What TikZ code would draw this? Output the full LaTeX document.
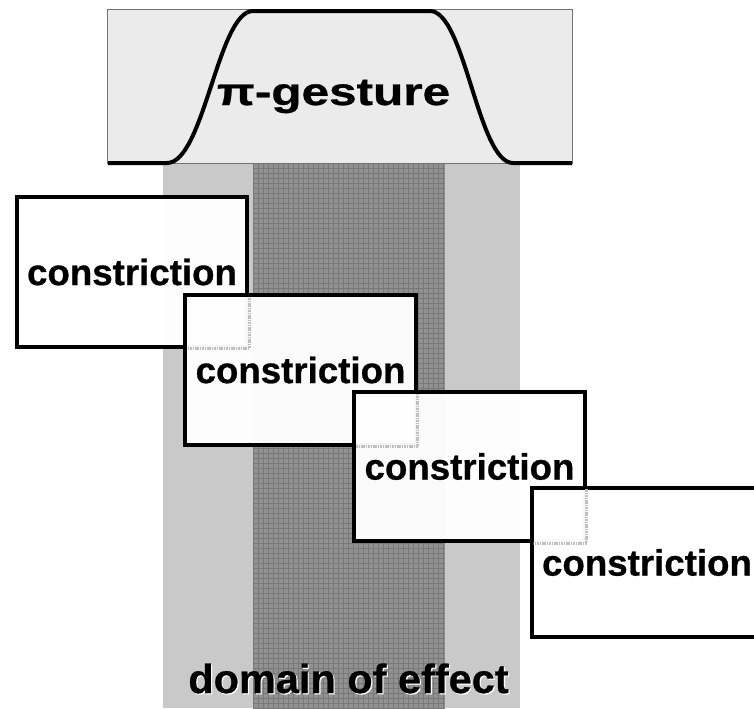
\documentclass[tikz,border=0pt]{standalone}
\usepackage{fontspec}
\setmainfont{Liberation Sans}
\newfontfamily\heavyfont{Liberation Sans Bold}[FakeBold=0.7]
\begin{document}
\begin{tikzpicture}[x=0.75pt,y=-0.75pt,
  labelfont/.style={font=\fontsize{27.5}{30}\heavyfont},
  cbox/.style={draw=black,line width=3pt,fill=white,fill opacity=0.97,
    text opacity=1,minimum width=173pt,minimum height=112pt,inner sep=0pt,
    labelfont},
  ghost/.style={draw=black!25,line width=2.2pt,dash pattern=on 1.2pt off 0.6pt},
  gridline/.style={draw=black!53,line width=0.35pt},
  curve/.style={line width=3pt,line join=round,line cap=butt}]
\useasboundingbox (0,0) rectangle (754,708);
\fill[white] (0,0) rectangle (754,708);

% domain of effect: outer light band and inner textured band
\fill[black!21] (163,163) rectangle (520,708);
\fill[black!43] (253,163) rectangle (445,708);
\foreach \i in {0,...,38} \draw[gridline] ({253+5*\i},163) -- ({253+5*\i},708);
\foreach \j in {0,...,109} \draw[gridline] (253,{163+5*\j}) -- (445,{163+5*\j});

% gesture panel with its activation curve
\node[draw=black!55,line width=0.6pt,fill=black!8,minimum width=348.75pt,
  minimum height=115.5pt,inner sep=0pt] (panel) at (339.5,86) {};
\draw[curve] (108,163) -- (167,163) .. controls (204,163) and (218,11) .. (253,11)
  -- (430,11) .. controls (465,11) and (478,163) .. (513,163) -- (572,163);
\node[font=\fontsize{29}{30}\heavyfont,anchor=base,xscale=1.28] (gesture)
  at (333.5,105) {π-gesture};

% domain label with a light offset shadow
\node[font=\fontsize{30.5}{32}\heavyfont,anchor=base,xscale=1.02,text=white]
  (domainshadow) at (349.7,694.2) {domain of effect};
\node[font=\fontsize{30.5}{32}\heavyfont,anchor=base,xscale=1.02]
  (domain) at (348.5,693) {domain of effect};

% overlapping constriction boxes; the covered outline of each earlier box
% shows faintly through the box placed over it
\node[cbox] (c1) at (132,272) {constriction};
\node[cbox] (c2) at (300.5,370) {constriction};
\begin{scope}
  \clip ([shift={(3pt,-3pt)}]c2.north west) rectangle ([shift={(-3pt,3pt)}]c2.south east);
  \draw[ghost] (c1.north west) rectangle (c1.south east);
\end{scope}
\node[cbox] (c3) at (469.5,466.5) {constriction};
\begin{scope}
  \clip ([shift={(3pt,-3pt)}]c3.north west) rectangle ([shift={(-3pt,3pt)}]c3.south east);
  \draw[ghost] (c2.north west) rectangle (c2.south east);
\end{scope}
\node[cbox] (c4) at (647,562.5) {constriction};
\begin{scope}
  \clip ([shift={(3pt,-3pt)}]c4.north west) rectangle ([shift={(-3pt,3pt)}]c4.south east);
  \draw[ghost] (c3.north west) rectangle (c3.south east);
\end{scope}
\end{tikzpicture}
\end{document}
